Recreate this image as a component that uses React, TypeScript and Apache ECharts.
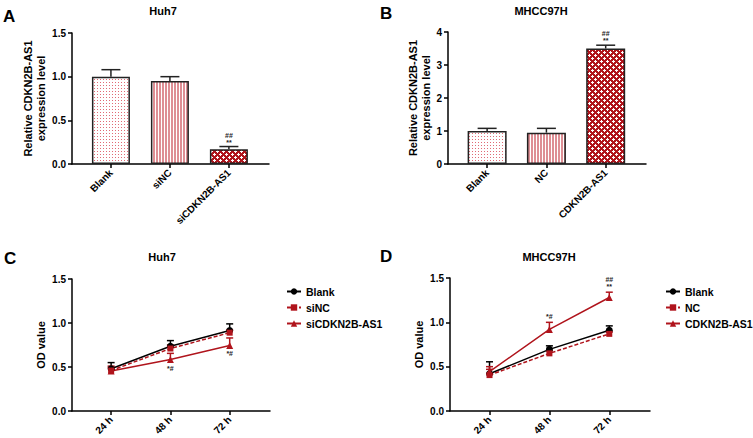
import React, { useEffect, useRef } from 'react';
import * as echarts from 'echarts';

// ---- Panel A (bar, Huh7) ----
const barCatsA = ['Blank', 'siNC', 'siCDKN2B-AS1'];
const barValsA = [1.0, 0.95, 0.17];
const barErrA = [0.08, 0.05, 0.03];
const barAnnA = [[], [], ['##', '**']];

// ---- Panel B (bar, MHCC97H) ----
const barCatsB = ['Blank', 'NC', 'CDKN2B-AS1'];
const barValsB = [1.0, 0.95, 3.5];
const barErrB = [0.08, 0.13, 0.1];
const barAnnB = [[], [], ['##', '**']];

// ---- Panel C (line, Huh7) ----
const timeLabels = ['24 h', '48 h', '72 h'];
const cNames = ['Blank', 'siNC', 'siCDKN2B-AS1'];
const cBlank = [0.48, 0.735, 0.915];
const cBlankErr = [0.07, 0.065, 0.075];
const cSiNC = [0.46, 0.71, 0.89];
const cSiNCErr = [0.05, 0.04, 0.03];
const cSi = [0.455, 0.585, 0.745];
const cSiErr = [0.04, 0.07, 0.085];
const cAnn = [[], ['*#'], ['*#']];

// ---- Panel D (line, MHCC97H) ----
const dNames = ['Blank', 'NC', 'CDKN2B-AS1'];
const dBlank = [0.42, 0.695, 0.91];
const dBlankErr = [0.135, 0.04, 0.05];
const dNC = [0.405, 0.65, 0.87];
const dNCErr = [0.065, 0.03, 0.02];
const dCd = [0.445, 0.92, 1.28];
const dCdErr = [0.055, 0.08, 0.06];
const dAnn = [[], ['*#'], ['##', '**']];

const FONT = 'Liberation Sans, Arial, sans-serif';
const RED = '#b0141c';

function makePattern(kind: string): any {
  const c = document.createElement('canvas');
  const ctx = c.getContext('2d')!;
  if (kind === 'dots') {
    c.width = 3; c.height = 3;
    ctx.fillStyle = '#ffffff'; ctx.fillRect(0, 0, 3, 3);
    ctx.fillStyle = '#e06b76'; ctx.fillRect(1, 1, 1, 1);
  } else if (kind === 'stripes') {
    c.width = 3; c.height = 3;
    ctx.fillStyle = '#ffffff'; ctx.fillRect(0, 0, 3, 3);
    ctx.fillStyle = '#de8e94'; ctx.fillRect(0, 0, 2, 3);
  } else {
    c.width = 6; c.height = 6;
    ctx.fillStyle = RED; ctx.fillRect(0, 0, 6, 6);
    ctx.fillStyle = '#ffffff';
    const plus = (x: number, y: number) => {
      ctx.fillRect(x - 1, y, 3, 1);
      ctx.fillRect(x, y - 1, 1, 3);
    };
    plus(1, 1); plus(4, 4);
  }
  return { image: c, repeat: 'repeat' };
}

function errSeries(idx: number, vals: number[], errs: number[], capW: number, color: string) {
  return {
    type: 'custom',
    xAxisIndex: idx,
    yAxisIndex: idx,
    z: 3,
    silent: true,
    data: vals.map((v, i) => [i, v, v + errs[i]]),
    renderItem: (params: any, api: any) => {
      const x = api.value(0);
      const p0 = api.coord([x, api.value(1)]);
      const p1 = api.coord([x, api.value(2)]);
      return {
        type: 'group',
        children: [
          { type: 'line', shape: { x1: p0[0], y1: p0[1], x2: p1[0], y2: p1[1] }, style: { stroke: color, lineWidth: 1.5 } },
          { type: 'line', shape: { x1: p1[0] - capW / 2, y1: p1[1], x2: p1[0] + capW / 2, y2: p1[1] }, style: { stroke: color, lineWidth: 1.5 } },
        ],
      };
    },
  };
}

// texts: list of lines per point, stacked top-to-bottom
function annSeries(idx: number, yvals: number[], texts: string[][], dy: number, above: boolean) {
  const step = 7;
  return {
    type: 'custom',
    xAxisIndex: idx,
    yAxisIndex: idx,
    z: 5,
    silent: true,
    data: yvals.map((v, i) => [i, v]),
    renderItem: (params: any, api: any) => {
      const lines = texts[params.dataIndex];
      const p = api.coord([api.value(0), api.value(1)]);
      const n = lines.length;
      return {
        type: 'group',
        children: lines.map((t, k) => {
          const y = above ? p[1] + dy - (n - 1 - k) * step : p[1] + dy + k * step;
          return {
            type: 'text',
            x: p[0],
            y,
            style: {
              text: t,
              fill: '#222',
              fontSize: 7,
              fontWeight: 'bold',
              fontFamily: FONT,
              align: 'center',
              verticalAlign: above ? 'bottom' : 'top',
            },
          };
        }),
      };
    },
  };
}

function xAxisFor(idx: number, cats: string[]) {
  return {
    type: 'value',
    gridIndex: idx,
    min: -0.66,
    max: 2.68,
    splitLine: { show: false },
    axisLine: { show: true, onZero: false, lineStyle: { color: '#000', width: 1.5 } },
    axisTick: { show: true, customValues: [0, 1, 2], length: 4, lineStyle: { color: '#000', width: 1.5 } },
    axisLabel: {
      customValues: [0, 1, 2],
      formatter: (v: number) => cats[Math.round(v)] ?? '',
      rotate: 45,
      margin: 7,
      color: '#000',
      fontSize: 10,
      fontWeight: 'bold',
      fontFamily: FONT,
    },
  };
}

function yAxisFor(idx: number, max: number, interval: number, dec: number, name: string, gap: number) {
  return {
    type: 'value',
    gridIndex: idx,
    min: 0,
    max,
    interval,
    splitLine: { show: false },
    axisLine: { show: true, onZero: false, lineStyle: { color: '#000', width: 1.5 } },
    axisTick: { show: true, length: 4, lineStyle: { color: '#000', width: 1.5 } },
    axisLabel: {
      formatter: (v: number) => v.toFixed(dec),
      margin: 6,
      color: '#000',
      fontSize: 10,
      fontWeight: 'bold',
      fontFamily: FONT,
    },
    name,
    nameLocation: 'middle',
    nameGap: gap,
    nameTextStyle: { color: '#000', fontSize: 11, fontWeight: 'bold', fontFamily: FONT, lineHeight: 13 },
  };
}

function lineSeries(idx: number, name: string, vals: number[], color: string, symbol: string, size: number, dashed: boolean) {
  return {
    type: 'line',
    name,
    xAxisIndex: idx,
    yAxisIndex: idx,
    data: vals.map((v, i) => [i, v]),
    symbol,
    symbolSize: size,
    z: 4,
    lineStyle: { color, width: 1.5, type: dashed ? [4, 2] : 'solid' },
    itemStyle: { color },
  };
}

export default function App() {
  const ref = useRef<HTMLDivElement>(null);
  useEffect(() => {
    if (!ref.current) return;
    const chart = echarts.init(ref.current, null, { renderer: 'svg' });
    const pats = [makePattern('dots'), makePattern('stripes'), makePattern('check')];
    const barData = (vals: number[]) =>
      vals.map((v, i) => ({ value: [i, v], itemStyle: { color: pats[i], borderColor: '#222', borderWidth: 1.5 } }));

    const titleStyle = { color: '#000', fontSize: 11, fontWeight: 'bold', fontFamily: FONT };
    const letterStyle = { color: '#000', fontSize: 17, fontWeight: 'bold', fontFamily: FONT };
    const legendBase = {
      orient: 'vertical',
      itemWidth: 14,
      itemHeight: 8,
      itemGap: 5,
      selectedMode: false,
      textStyle: { color: '#000', fontSize: 10.5, fontWeight: 'bold', fontFamily: FONT },
    };

    chart.setOption({
      animation: false,
      textStyle: { fontFamily: FONT },
      title: [
        { text: 'A', left: 3, top: 8, textStyle: letterStyle, padding: 0 },
        { text: 'B', left: 380, top: 5, textStyle: letterStyle, padding: 0 },
        { text: 'C', left: 4, top: 250, textStyle: letterStyle, padding: 0 },
        { text: 'D', left: 380, top: 248, textStyle: letterStyle, padding: 0 },
        { text: 'Huh7', left: 163, textAlign: 'center', top: 5, textStyle: titleStyle, padding: 0 },
        { text: 'MHCC97H', left: 541, textAlign: 'center', top: 5, textStyle: titleStyle, padding: 0 },
        { text: 'Huh7', left: 162, textAlign: 'center', top: 251, textStyle: titleStyle, padding: 0 },
        { text: 'MHCC97H', left: 549, textAlign: 'center', top: 251, textStyle: titleStyle, padding: 0 },
      ],
      legend: [
        { ...legendBase, data: cNames, left: 281, top: 281 },
        { ...legendBase, data: dNames, left: 660, top: 281 },
      ],
      grid: [
        { left: 72, top: 33, width: 197, height: 131, containLabel: false, outerBoundsMode: 'none' },
        { left: 448, top: 32, width: 198, height: 132, containLabel: false, outerBoundsMode: 'none' },
        { left: 72, top: 279, width: 198, height: 132, containLabel: false, outerBoundsMode: 'none' },
        { left: 450, top: 278, width: 200, height: 133, containLabel: false, outerBoundsMode: 'none' },
      ],
      xAxis: [
        xAxisFor(0, barCatsA),
        xAxisFor(1, barCatsB),
        xAxisFor(2, timeLabels),
        xAxisFor(3, timeLabels),
      ],
      yAxis: [
        yAxisFor(0, 1.5, 0.5, 1, 'Relative CDKN2B-AS1\nexpression level', 25),
        yAxisFor(1, 4, 1, 0, 'Relative CDKN2B-AS1\nexpression level', 15),
        yAxisFor(2, 1.5, 0.5, 1, 'OD value', 25),
        yAxisFor(3, 1.5, 0.5, 1, 'OD value', 25),
      ],
      series: [
        { type: 'bar', name: 'barA', xAxisIndex: 0, yAxisIndex: 0, barWidth: 38, z: 2, data: barData(barValsA) },
        errSeries(0, barValsA, barErrA, 19, '#222'),
        annSeries(0, barValsA.map((v, i) => v + barErrA[i]), barAnnA, -1, true),

        { type: 'bar', name: 'barB', xAxisIndex: 1, yAxisIndex: 1, barWidth: 39, z: 2, data: barData(barValsB) },
        errSeries(1, barValsB, barErrB, 19, '#222'),
        annSeries(1, barValsB.map((v, i) => v + barErrB[i]), barAnnB, -1, true),

        errSeries(2, cBlank, cBlankErr, 7, '#000'),
        errSeries(2, cSiNC, cSiNCErr, 7, RED),
        errSeries(2, cSi, cSiErr, 7, RED),
        lineSeries(2, cNames[0], cBlank, '#000', 'circle', 7, false),
        lineSeries(2, cNames[1], cSiNC, RED, 'rect', 6, true),
        lineSeries(2, cNames[2], cSi, RED, 'triangle', 7, false),
        annSeries(2, cSi, cAnn, 5, false),

        errSeries(3, dBlank, dBlankErr, 7, '#000'),
        errSeries(3, dNC, dNCErr, 7, RED),
        errSeries(3, dCd, dCdErr, 7, RED),
        lineSeries(3, 'Blank', dBlank, '#000', 'circle', 7, false),
        lineSeries(3, dNames[1], dNC, RED, 'rect', 6, true),
        lineSeries(3, dNames[2], dCd, RED, 'triangle', 7, false),
        annSeries(3, dCd.map((v, i) => v + dCdErr[i]), dAnn, -2, true),
      ],
    });
    return () => chart.dispose();
  }, []);
  return <div ref={ref} style={{ position: 'absolute', left: 0, top: 0, width: 753, height: 438, background: '#fff' }} />;
}
